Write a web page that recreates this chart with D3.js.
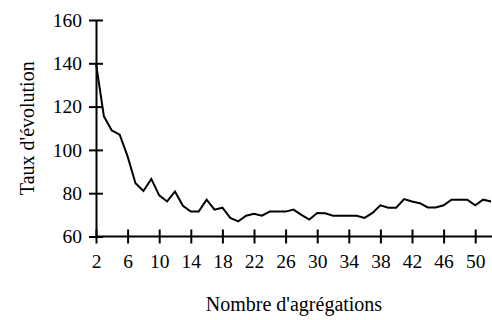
<!DOCTYPE html>
<html>
<head>
<meta charset="utf-8">
<script src="https://cdn.jsdelivr.net/npm/d3@7"></script>
<style>
  body { margin: 0; background: #fff; }
  text { font-family: "Liberation Serif", "Times New Roman", serif; fill: #000; }
</style>
</head>
<body>
<div id="chart"></div>
<script>
// Number of aggregations (x) and evolution rate (y)
const aggregations = d3.range(2, 53);
const rates = [
  140, 115.5, 109, 107, 97, 84.6, 81, 86.6, 79, 76.2,
  80.8, 74.2, 71.5, 71.5, 77, 72.4, 73.3, 68.6, 67, 69.6,
  70.5, 69.6, 71.5, 71.5, 71.5, 72.4, 70, 67.8, 70.9, 70.7,
  69.6, 69.6, 69.6, 69.6, 68.6, 70.9, 74.4, 73.3, 73.3, 77.3,
  76.2, 75.4, 73.4, 73.4, 74.4, 77, 77, 77, 74.4, 77,
  76.2
];
const xTicks = [2, 6, 10, 14, 18, 22, 26, 30, 34, 38, 42, 46, 50];
const yTicks = [60, 80, 100, 120, 140, 160];

const width = 492;
const height = 320;
const serif = '"Liberation Serif", "Times New Roman", serif';

const svg = d3.select("#chart")
    .append("svg")
    .attr("width", width)
    .attr("height", height);

const x = d3.scaleLinear().domain([2, 52]).range([96, 491]);
const y = d3.scaleLinear().domain([60, 160]).range([236.5, 20]);

// X axis
const xAxis = svg.append("g")
    .attr("transform", `translate(0,${y(60)})`)
    .attr("font-family", serif)
    .call(d3.axisBottom(x).tickValues(xTicks).tickSize(0).tickPadding(18).tickFormat(d3.format("d")));
xAxis.attr("font-family", serif);
xAxis.select(".domain").attr("stroke", "#000").attr("stroke-width", 2).attr("d", `M${x(2)},0H${width}`);
xAxis.selectAll(".tick line").attr("stroke", "#000").attr("stroke-width", 2).attr("y1", -7).attr("y2", 7);
xAxis.selectAll(".tick text").style("font-family", serif).style("font-size", "19.5px").attr("dy", "0.71em");

// Y axis
const yAxis = svg.append("g")
    .attr("transform", `translate(${x(2)},0)`)
    .call(d3.axisLeft(y).tickValues(yTicks).tickSize(0).tickPadding(14));
yAxis.attr("font-family", serif);
yAxis.select(".domain").attr("stroke", "#000").attr("stroke-width", 2);
yAxis.selectAll(".tick line").attr("stroke", "#000").attr("stroke-width", 2).attr("x1", -7).attr("x2", 7);
yAxis.selectAll(".tick text").style("font-family", serif).style("font-size", "19.5px");

// Line
const line = d3.line()
    .x((d, i) => x(aggregations[i]))
    .y(d => y(d));

svg.append("path")
    .datum(rates)
    .attr("fill", "none")
    .attr("stroke", "#000")
    .attr("stroke-width", 2)
    .attr("stroke-linejoin", "miter")
    .attr("d", line);

// Axis titles
svg.append("text")
    .attr("x", (x(2) + width) / 2)
    .attr("y", 311)
    .attr("text-anchor", "middle")
    .style("font-family", serif)
    .style("font-size", "20px")
    .text("Nombre d'agrégations");

svg.append("text")
    .attr("transform", `translate(27,${(y(60) + y(160)) / 2}) rotate(-90)`)
    .attr("text-anchor", "middle")
    .attr("dy", "0.35em")
    .style("font-family", serif)
    .style("font-size", "20px")
    .text("Taux d'évolution");
</script>
</body>
</html>
